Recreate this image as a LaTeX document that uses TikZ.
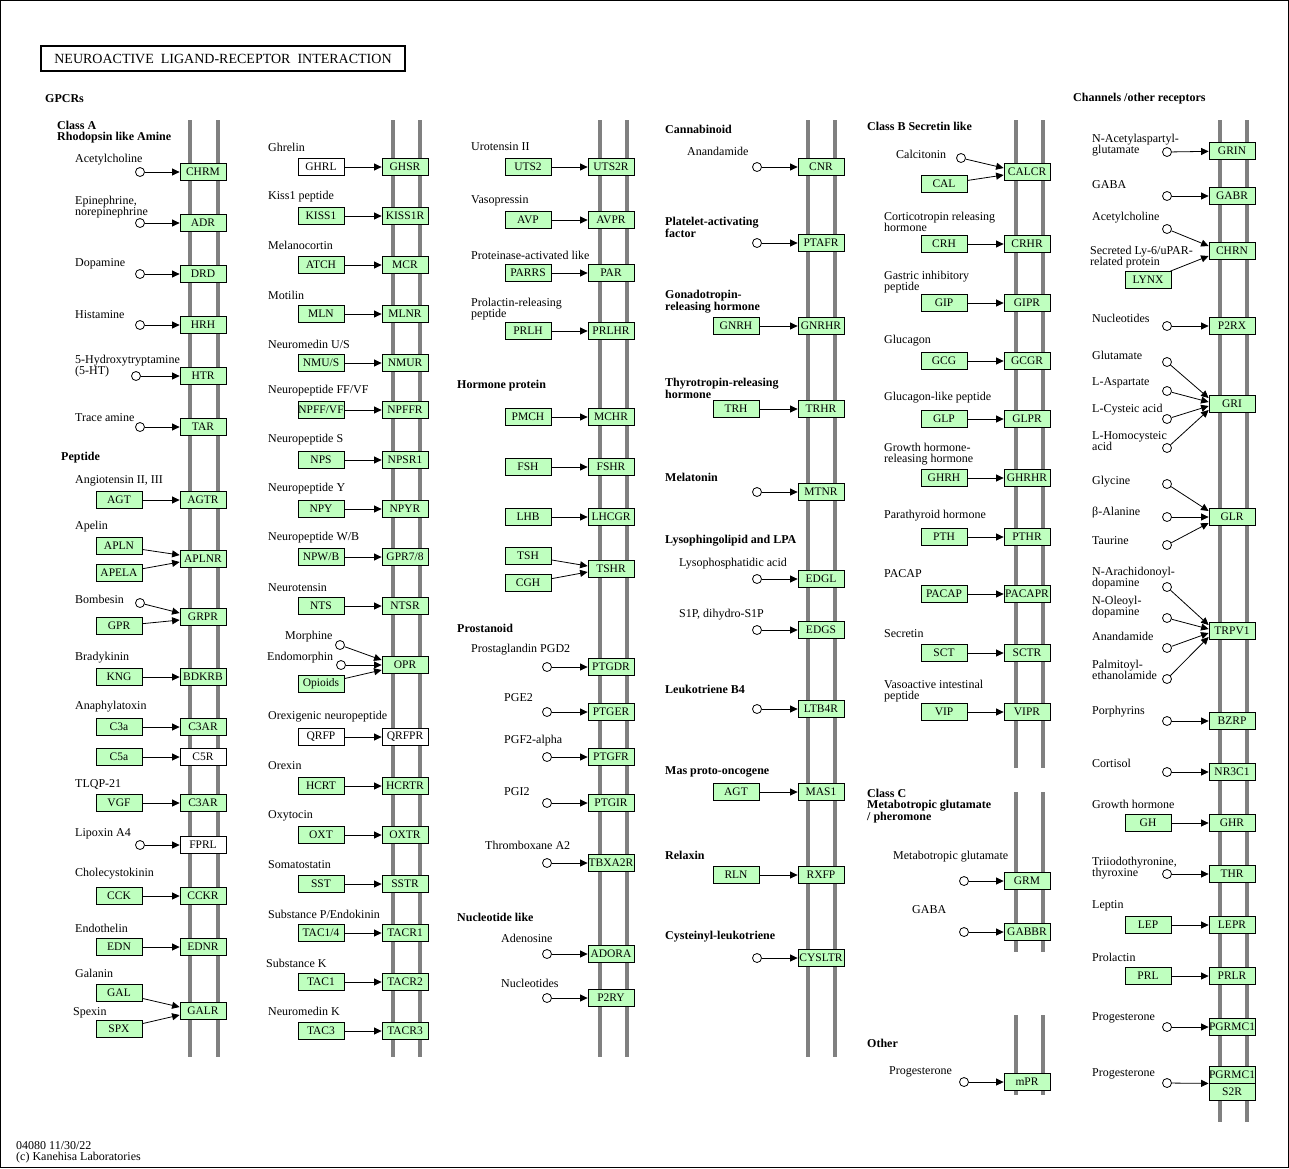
\documentclass[tikz,border=0pt]{standalone}
\usepackage{fontspec}
\setmainfont{Liberation Serif}
\usetikzlibrary{arrows.meta}
\definecolor{kgreen}{HTML}{BFFFBF}

\begin{document}
\begin{tikzpicture}[x=1pt,y=-1pt,
    every node/.style={inner sep=0pt},
    gene/.style={draw, fill=kgreen, line width=0.8pt, minimum width=46pt, minimum height=17pt,
      font=\fontsize{11.5}{12}\selectfont},
    nogene/.style={gene, fill=white},
    cpd/.style={circle, draw, fill=white, line width=0.8pt, minimum size=9pt},
    lbl/.style={anchor=west, align=left, font=\fontsize{12}{11}\selectfont},
    grp/.style={anchor=west, align=left, font=\fontsize{12}{10.5}\selectfont\bfseries},
    mem/.style={draw=gray, line width=4pt},
    act/.style={-{Triangle[length=7.5pt,width=7pt]}, line width=0.8pt}]
  \useasboundingbox (0,0) rectangle (1289,1168);
  \draw (0.5,0.5) rectangle (1288.5,1167.5);

  % membranes
  \draw[mem] (190,120) -- (190,1057);  \draw[mem] (218,120) -- (218,1057);
  \draw[mem] (393,120) -- (393,1057);  \draw[mem] (420,120) -- (420,1057);
  \draw[mem] (600,120) -- (600,1057);  \draw[mem] (627,120) -- (627,1057);
  \draw[mem] (808,120) -- (808,1057);  \draw[mem] (835,120) -- (835,1057);
  \draw[mem] (1016,120) -- (1016,768); \draw[mem] (1043,120) -- (1043,768);
  \draw[mem] (1016,792) -- (1016,952); \draw[mem] (1043,792) -- (1043,952);
  \draw[mem] (1016,1015) -- (1016,1095); \draw[mem] (1043,1015) -- (1043,1095);
  \draw[mem] (1220,120) -- (1220,1122); \draw[mem] (1247,120) -- (1247,1122);

  \node[draw, line width=2pt, minimum width=364pt, minimum height=25pt,
    font=\fontsize{14}{14}\selectfont] (title) at (223,58.5)
    {NEUROACTIVE\ \ LIGAND-RECEPTOR\ \ INTERACTION};
  \node[lbl] (foot) at (16,1152) {04080 11/30/22\\(c) Kanehisa Laboratories};

  % GPCRs / class A
  \node[grp] (hgpcr) at (45,99) {GPCRs};
  \node[grp] (hclassa) at (57,132) {Class A\\Rhodopsin like Amine};
  \node[lbl] (t1) at (75,160) {Acetylcholine};
  \node[cpd] (c1) at (140,172) {};
  \node[gene] (chrm) at (203,172) {CHRM};
  \node[lbl] (t2) at (75,207) {Epinephrine,\\norepinephrine};
  \node[cpd] (c2) at (140,223) {};
  \node[gene] (adr) at (203,223) {ADR};
  \node[lbl] (t3) at (75,264) {Dopamine};
  \node[cpd] (c3) at (140,274) {};
  \node[gene] (drd) at (203,274) {DRD};
  \node[lbl] (t4) at (75,315) {Histamine};
  \node[cpd] (c4) at (140,325) {};
  \node[gene] (hrh) at (203,325) {HRH};
  \node[lbl] (t5) at (75,366) {5-Hydroxytryptamine\\(5-HT)};
  \node[cpd] (c5) at (136,376) {};
  \node[gene] (htr) at (203,376) {HTR};
  \node[lbl] (t6) at (75,418) {Trace amine};
  \node[cpd] (c6) at (140,427) {};
  \node[gene] (tar) at (203,427) {TAR};
  \node[grp] (hpep) at (61,458) {Peptide};
  \node[lbl] (t7) at (75,481) {Angiotensin II, III};
  \node[gene] (agt) at (119,500) {AGT};
  \node[gene] (agtr) at (203,500) {AGTR};
  \node[lbl] (t8) at (75,527) {Apelin};
  \node[gene] (apln) at (119,546) {APLN};
  \node[gene] (apela) at (119,573) {APELA};
  \node[gene] (aplnr) at (203,559) {APLNR};
  \node[lbl] (t9) at (75,599) {Bombesin};
  \node[cpd] (c9) at (140,603) {};
  \node[gene] (gpr) at (119,626) {GPR};
  \node[gene] (grpr) at (203,617) {GRPR};
  \node[lbl] (t10) at (75,658) {Bradykinin};
  \node[gene] (kng) at (119,677) {KNG};
  \node[gene] (bdkrb) at (203,677) {BDKRB};
  \node[lbl] (t11) at (75,707) {Anaphylatoxin};
  \node[gene] (c3a) at (119,727) {C3a};
  \node[gene] (c3ar) at (203,727) {C3AR};
  \node[gene] (c5a) at (119,757) {C5a};
  \node[nogene] (c5r) at (203,757) {C5R};
  \node[lbl] (t12) at (75,784) {TLQP-21};
  \node[gene] (vgf) at (119,803) {VGF};
  \node[gene] (c3arb) at (203,803) {C3AR};
  \node[lbl] (t13) at (75,834) {Lipoxin A4};
  \node[cpd] (c13) at (140,845) {};
  \node[nogene] (fprl) at (203,845) {FPRL};
  \node[lbl] (t14) at (75,874) {Cholecystokinin};
  \node[gene] (cck) at (119,896) {CCK};
  \node[gene] (cckr) at (203,896) {CCKR};
  \node[lbl] (t15) at (75,928) {Endothelin};
  \node[gene] (edn) at (119,947) {EDN};
  \node[gene] (ednr) at (203,947) {EDNR};
  \node[lbl] (t16) at (75,973) {Galanin};
  \node[gene] (gal) at (119,993) {GAL};
  \node[lbl] (t17) at (73,1013) {Spexin};
  \node[gene] (spx) at (119,1029) {SPX};
  \node[gene] (galr) at (203,1011) {GALR};

  \draw[act] (c1) -- (chrm);
  \draw[act] (c2) -- (adr);
  \draw[act] (c3) -- (drd);
  \draw[act] (c4) -- (hrh);
  \draw[act] (c5) -- (htr);
  \draw[act] (c6) -- (tar);
  \draw[act] (agt) -- (agtr);
  \draw[act] (apln) -- ([yshift=4pt]aplnr.west);
  \draw[act] (apela) -- ([yshift=-3pt]aplnr.west);
  \draw[act] (c9) -- ([yshift=4pt]grpr.west);
  \draw[act] (gpr) -- ([yshift=-3pt]grpr.west);
  \draw[act] (kng) -- (bdkrb);
  \draw[act] (c3a) -- (c3ar);
  \draw[act] (c5a) -- (c5r);
  \draw[act] (vgf) -- (c3arb);
  \draw[act] (c13) -- (fprl);
  \draw[act] (cck) -- (cckr);
  \draw[act] (edn) -- (ednr);
  \draw[act] (gal) -- ([yshift=4pt]galr.west);
  \draw[act] (spx) -- ([yshift=-4pt]galr.west);

  % peptide, second column
  \node[lbl] (t20) at (268,147) {Ghrelin};
  \node[nogene] (ghrl) at (321,167) {GHRL};
  \node[gene] (ghsr) at (405,167) {GHSR};
  \node[lbl] (t21) at (268,197) {Kiss1 peptide};
  \node[gene] (kiss) at (321,216) {KISS1};
  \node[gene] (kissr) at (405,216) {KISS1R};
  \node[lbl] (t22) at (268,245) {Melanocortin};
  \node[gene] (atch) at (321,265) {ATCH};
  \node[gene] (mcr) at (405,265) {MCR};
  \node[lbl] (t23) at (268,295) {Motilin};
  \node[gene] (mln) at (321,314) {MLN};
  \node[gene] (mlnr) at (405,314) {MLNR};
  \node[lbl] (t24) at (268,344) {Neuromedin U/S};
  \node[gene] (nmu) at (321,363) {NMU/S};
  \node[gene] (nmur) at (405,363) {NMUR};
  \node[lbl] (t25) at (268,391) {Neuropeptide FF/VF};
  \node[gene] (npff) at (321,410) {NPFF/VF};
  \node[gene] (npffr) at (405,410) {NPFFR};
  \node[lbl] (t26) at (268,440) {Neuropeptide S};
  \node[gene] (nps) at (321,460) {NPS};
  \node[gene] (npsr) at (405,460) {NPSR1};
  \node[lbl] (t27) at (268,489) {Neuropeptide Y};
  \node[gene] (npy) at (321,509) {NPY};
  \node[gene] (npyr) at (405,509) {NPYR};
  \node[lbl] (t28) at (268,538) {Neuropeptide W/B};
  \node[gene] (npw) at (321,557) {NPW/B};
  \node[gene] (gpr78) at (405,557) {GPR7/8};
  \node[lbl] (t29) at (268,588) {Neurotensin};
  \node[gene] (nts) at (321,606) {NTS};
  \node[gene] (ntsr) at (405,606) {NTSR};
  \node[lbl] (t30) at (285,637) {Morphine};
  \node[cpd] (c30) at (340,645) {};
  \node[lbl] (t31) at (267,658) {Endomorphin};
  \node[cpd] (c31) at (341,665) {};
  \node[gene] (opi) at (321,684) {Opioids};
  \node[gene] (opr) at (405,665) {OPR};
  \node[lbl] (t32) at (268,717) {Orexigenic neuropeptide};
  \node[nogene] (qrfp) at (321,737) {QRFP};
  \node[nogene] (qrfpr) at (405,737) {QRFPR};
  \node[lbl] (t33) at (268,766) {Orexin};
  \node[gene] (hcrt) at (321,786) {HCRT};
  \node[gene] (hcrtr) at (405,786) {HCRTR};
  \node[lbl] (t34) at (268,816) {Oxytocin};
  \node[gene] (oxt) at (321,835) {OXT};
  \node[gene] (oxtr) at (405,835) {OXTR};
  \node[lbl] (t35) at (268,865) {Somatostatin};
  \node[gene] (sst) at (321,884) {SST};
  \node[gene] (sstr) at (405,884) {SSTR};
  \node[lbl] (t36) at (268,914) {Substance P/Endokinin};
  \node[gene] (tac14) at (321,933) {TAC1/4};
  \node[gene] (tacr1) at (405,933) {TACR1};
  \node[lbl] (t37) at (266,963) {Substance K};
  \node[gene] (tac1) at (321,982) {TAC1};
  \node[gene] (tacr2) at (405,982) {TACR2};
  \node[lbl] (t38) at (268,1011) {Neuromedin K};
  \node[gene] (tac3) at (321,1031) {TAC3};
  \node[gene] (tacr3) at (405,1031) {TACR3};

  \draw[act] (ghrl) -- (ghsr);
  \draw[act] (kiss) -- (kissr);
  \draw[act] (atch) -- (mcr);
  \draw[act] (mln) -- (mlnr);
  \draw[act] (nmu) -- (nmur);
  \draw[act] (npff) -- (npffr);
  \draw[act] (nps) -- (npsr);
  \draw[act] (npy) -- (npyr);
  \draw[act] (npw) -- (gpr78);
  \draw[act] (nts) -- (ntsr);
  \draw[act] (c30) -- ([yshift=5pt]opr.west);
  \draw[act] (c31) -- (opr);
  \draw[act] (opi) -- ([yshift=-5pt]opr.west);
  \draw[act] (qrfp) -- (qrfpr);
  \draw[act] (hcrt) -- (hcrtr);
  \draw[act] (oxt) -- (oxtr);
  \draw[act] (sst) -- (sstr);
  \draw[act] (tac14) -- (tacr1);
  \draw[act] (tac1) -- (tacr2);
  \draw[act] (tac3) -- (tacr3);

  % third column
  \node[lbl] (t40) at (471,147) {Urotensin II};
  \node[gene] (uts2) at (528,167) {UTS2};
  \node[gene] (uts2r) at (611,167) {UTS2R};
  \node[lbl] (t41) at (471,201) {Vasopressin};
  \node[gene] (avp) at (528,220) {AVP};
  \node[gene] (avpr) at (611,220) {AVPR};
  \node[lbl] (t42) at (471,255) {Proteinase-activated like};
  \node[gene] (parrs) at (528,273) {PARRS};
  \node[gene] (par) at (611,273) {PAR};
  \node[lbl] (t43) at (471,309) {Prolactin-releasing\\peptide};
  \node[gene] (prlh) at (528,331) {PRLH};
  \node[gene] (prlhr) at (611,331) {PRLHR};
  \node[grp] (hhorm) at (457,386) {Hormone protein};
  \node[gene] (pmch) at (528,417) {PMCH};
  \node[gene] (mchr) at (611,417) {MCHR};
  \node[gene] (fsh) at (528,467) {FSH};
  \node[gene] (fshr) at (611,467) {FSHR};
  \node[gene] (lhb) at (528,517) {LHB};
  \node[gene] (lhcgr) at (611,517) {LHCGR};
  \node[gene] (tsh) at (528,556) {TSH};
  \node[gene] (cgh) at (528,583) {CGH};
  \node[gene] (tshr) at (611,569) {TSHR};
  \node[grp] (hpros) at (457,628) {Prostanoid};
  \node[lbl] (t44) at (471,650) {Prostaglandin PGD2};
  \node[cpd] (c44) at (547,667) {};
  \node[gene] (ptgdr) at (611,667) {PTGDR};
  \node[lbl] (t45) at (504,698) {PGE2};
  \node[cpd] (c45) at (547,712) {};
  \node[gene] (ptger) at (611,712) {PTGER};
  \node[lbl] (t46) at (504,741) {PGF2-alpha};
  \node[cpd] (c46) at (547,757) {};
  \node[gene] (ptgfr) at (611,757) {PTGFR};
  \node[lbl] (t47) at (504,792) {PGI2};
  \node[cpd] (c47) at (547,803) {};
  \node[gene] (ptgir) at (611,803) {PTGIR};
  \node[lbl] (t48) at (485,845) {Thromboxane A2};
  \node[cpd] (c48) at (547,863) {};
  \node[gene] (tbxa2r) at (611,863) {TBXA2R};
  \node[grp] (hnuc) at (457,917) {Nucleotide like};
  \node[lbl] (t49) at (501,938) {Adenosine};
  \node[cpd] (c49) at (547,954) {};
  \node[gene] (adora) at (611,954) {ADORA};
  \node[lbl] (t50) at (501,983) {Nucleotides};
  \node[cpd] (c50) at (547,998) {};
  \node[gene] (p2ry) at (611,998) {P2RY};

  \draw[act] (uts2) -- (uts2r);
  \draw[act] (avp) -- (avpr);
  \draw[act] (parrs) -- (par);
  \draw[act] (prlh) -- (prlhr);
  \draw[act] (pmch) -- (mchr);
  \draw[act] (fsh) -- (fshr);
  \draw[act] (lhb) -- (lhcgr);
  \draw[act] (tsh) -- ([yshift=3pt]tshr.west);
  \draw[act] (cgh) -- ([yshift=-3pt]tshr.west);
  \draw[act] (c44) -- (ptgdr);
  \draw[act] (c45) -- (ptger);
  \draw[act] (c46) -- (ptgfr);
  \draw[act] (c47) -- (ptgir);
  \draw[act] (c48) -- (tbxa2r);
  \draw[act] (c49) -- (adora);
  \draw[act] (c50) -- (p2ry);

  % fourth column
  \node[grp] (hcann) at (665,129) {Cannabinoid};
  \node[lbl] (t60) at (687,151) {Anandamide};
  \node[cpd] (c60) at (757,167) {};
  \node[gene] (cnr) at (821,167) {CNR};
  \node[grp] (hpaf) at (665,227) {Platelet-activating\\factor};
  \node[cpd] (c61) at (757,243) {};
  \node[gene] (ptafr) at (821,243) {PTAFR};
  \node[grp] (hgnrh) at (665,302) {Gonadotropin-\\releasing hormone};
  \node[gene] (gnrh) at (736,326) {GNRH};
  \node[gene] (gnrhr) at (821,326) {GNRHR};
  \node[grp] (htrh) at (665,388) {Thyrotropin-releasing\\hormone};
  \node[gene] (trh) at (736,409) {TRH};
  \node[gene] (trhr) at (821,409) {TRHR};
  \node[grp] (hmel) at (665,477) {Melatonin};
  \node[cpd] (c62) at (757,492) {};
  \node[gene] (mtnr) at (821,492) {MTNR};
  \node[grp] (hlyso) at (665,541) {Lysophingolipid and LPA};
  \node[lbl] (t63) at (679,564) {Lysophosphatidic acid};
  \node[cpd] (c63) at (757,579) {};
  \node[gene] (edgl) at (821,579) {EDGL};
  \node[lbl] (t64) at (679,615) {S1P, dihydro-S1P};
  \node[cpd] (c64) at (757,630) {};
  \node[gene] (edgs) at (821,630) {EDGS};
  \node[grp] (hltb) at (665,689) {Leukotriene B4};
  \node[cpd] (c65) at (757,709) {};
  \node[gene] (ltb4r) at (821,709) {LTB4R};
  \node[grp] (hmas) at (665,772) {Mas proto-oncogene};
  \node[gene] (agtb) at (736,792) {AGT};
  \node[gene] (mas1) at (821,792) {MAS1};
  \node[grp] (hrln) at (665,855) {Relaxin};
  \node[gene] (rln) at (736,875) {RLN};
  \node[gene] (rxfp) at (821,875) {RXFP};
  \node[grp] (hcys) at (665,937) {Cysteinyl-leukotriene};
  \node[cpd] (c66) at (757,958) {};
  \node[gene] (cysltr) at (821,958) {CYSLTR};

  \draw[act] (c60) -- (cnr);
  \draw[act] (c61) -- (ptafr);
  \draw[act] (gnrh) -- (gnrhr);
  \draw[act] (trh) -- (trhr);
  \draw[act] (c62) -- (mtnr);
  \draw[act] (c63) -- (edgl);
  \draw[act] (c64) -- (edgs);
  \draw[act] (c65) -- (ltb4r);
  \draw[act] (agtb) -- (mas1);
  \draw[act] (rln) -- (rxfp);
  \draw[act] (c66) -- (cysltr);

  % class B, class C, other
  \node[grp] (hclassb) at (867,126) {Class B Secretin like};
  \node[lbl] (t70) at (896,154) {Calcitonin};
  \node[cpd] (c70) at (961,158) {};
  \node[gene] (cal) at (944,184) {CAL};
  \node[gene] (calcr) at (1027,172) {CALCR};
  \node[lbl] (t71) at (884,222) {Corticotropin releasing\\hormone};
  \node[gene] (crh) at (944,244) {CRH};
  \node[gene] (crhr) at (1027,244) {CRHR};
  \node[lbl] (t72) at (884,282) {Gastric inhibitory\\peptide};
  \node[gene] (gip) at (944,303) {GIP};
  \node[gene] (gipr) at (1027,303) {GIPR};
  \node[lbl] (t73) at (884,341) {Glucagon};
  \node[gene] (gcg) at (944,361) {GCG};
  \node[gene] (gcgr) at (1027,361) {GCGR};
  \node[lbl] (t74) at (884,398) {Glucagon-like peptide};
  \node[gene] (glp) at (944,419) {GLP};
  \node[gene] (glpr) at (1027,419) {GLPR};
  \node[lbl] (t75) at (884,454) {Growth hormone-\\releasing hormone};
  \node[gene] (ghrh) at (944,478) {GHRH};
  \node[gene] (ghrhr) at (1027,478) {GHRHR};
  \node[lbl] (t76) at (884,516) {Parathyroid hormone};
  \node[gene] (pth) at (944,537) {PTH};
  \node[gene] (pthr) at (1027,537) {PTHR};
  \node[lbl] (t77) at (884,574) {PACAP};
  \node[gene] (pacap) at (944,594) {PACAP};
  \node[gene] (pacapr) at (1027,594) {PACAPR};
  \node[lbl] (t78) at (884,634) {Secretin};
  \node[gene] (sct) at (944,653) {SCT};
  \node[gene] (sctr) at (1027,653) {SCTR};
  \node[lbl] (t79) at (884,691) {Vasoactive intestinal\\peptide};
  \node[gene] (vip) at (944,712) {VIP};
  \node[gene] (vipr) at (1027,712) {VIPR};
  \node[grp] (hclassc) at (867,806) {Class C\\Metabotropic glutamate\\/ pheromone};
  \node[lbl] (t80) at (893,857) {Metabotropic glutamate};
  \node[cpd] (c80) at (964,881) {};
  \node[gene] (grm) at (1027,881) {GRM};
  \node[lbl] (t81) at (912,910) {GABA};
  \node[cpd] (c81) at (964,932) {};
  \node[gene] (gabbr) at (1027,932) {GABBR};
  \node[grp] (hother) at (867,1043) {Other};
  \node[lbl] (t82) at (889,1072) {Progesterone};
  \node[cpd] (c82) at (964,1082) {};
  \node[gene] (mpr) at (1027,1082) {mPR};

  \draw[act] (c70) -- ([yshift=4pt]calcr.west);
  \draw[act] (cal) -- ([yshift=-3pt]calcr.west);
  \draw[act] (crh) -- (crhr);
  \draw[act] (gip) -- (gipr);
  \draw[act] (gcg) -- (gcgr);
  \draw[act] (glp) -- (glpr);
  \draw[act] (ghrh) -- (ghrhr);
  \draw[act] (pth) -- (pthr);
  \draw[act] (pacap) -- (pacapr);
  \draw[act] (sct) -- (sctr);
  \draw[act] (vip) -- (vipr);
  \draw[act] (c80) -- (grm);
  \draw[act] (c81) -- (gabbr);
  \draw[act] (c82) -- (mpr);

  % channels / other receptors
  \node[grp] (hchan) at (1073,99) {Channels /other receptors};
  \node[lbl] (t90) at (1092,145) {N-Acetylaspartyl-\\glutamate};
  \node[cpd] (c90) at (1167,152) {};
  \node[gene] (grin) at (1232,151) {GRIN};
  \node[lbl] (t91) at (1092,185) {GABA};
  \node[cpd] (c91) at (1167,196) {};
  \node[gene] (gabr) at (1232,196) {GABR};
  \node[lbl] (t92) at (1092,218) {Acetylcholine};
  \node[cpd] (c92) at (1167,229) {};
  \node[lbl] (t93) at (1090,257) {Secreted Ly-6/uPAR-\\related protein};
  \node[gene] (lynx) at (1148,280) {LYNX};
  \node[gene] (chrn) at (1232,251) {CHRN};
  \node[lbl] (t94) at (1092,318) {Nucleotides};
  \node[cpd] (c94) at (1167,326) {};
  \node[gene] (p2rx) at (1232,326) {P2RX};
  \node[lbl] (t95) at (1092,355) {Glutamate};
  \node[cpd] (c95) at (1167,362) {};
  \node[lbl] (t96) at (1092,383) {L-Aspartate};
  \node[cpd] (c96) at (1167,391) {};
  \node[lbl] (t97) at (1092,410) {L-Cysteic acid};
  \node[cpd] (c97) at (1167,419) {};
  \node[lbl] (t98) at (1092,441) {L-Homocysteic\\acid};
  \node[cpd] (c98) at (1167,448) {};
  \node[gene] (gri) at (1232,404) {GRI};
  \node[lbl] (t99) at (1092,482) {Glycine};
  \node[cpd] (c99) at (1167,484) {};
  \node[lbl] (t100) at (1092,513) {β-Alanine};
  \node[cpd] (c100) at (1167,517) {};
  \node[lbl] (t101) at (1092,541) {Taurine};
  \node[cpd] (c101) at (1167,545) {};
  \node[gene] (glr) at (1232,517) {GLR};
  \node[lbl] (t102) at (1092,578) {N-Arachidonoyl-\\dopamine};
  \node[cpd] (c102) at (1167,587) {};
  \node[lbl] (t103) at (1092,607) {N-Oleoyl-\\dopamine};
  \node[cpd] (c103) at (1167,618) {};
  \node[lbl] (t104) at (1092,636) {Anandamide};
  \node[cpd] (c104) at (1167,648) {};
  \node[lbl] (t105) at (1092,670) {Palmitoyl-\\ethanolamide};
  \node[cpd] (c105) at (1167,679) {};
  \node[gene] (trpv) at (1232,631) {TRPV1};
  \node[lbl] (t106) at (1092,712) {Porphyrins};
  \node[cpd] (c106) at (1167,721) {};
  \node[gene] (bzrp) at (1232,721) {BZRP};
  \node[lbl] (t107) at (1092,763) {Cortisol};
  \node[cpd] (c107) at (1167,772) {};
  \node[gene] (nr3c1) at (1232,772) {NR3C1};
  \node[lbl] (t108) at (1092,804) {Growth hormone};
  \node[gene] (gh) at (1148,823) {GH};
  \node[gene] (ghr) at (1232,823) {GHR};
  \node[lbl] (t109) at (1092,868) {Triiodothyronine,\\thyroxine};
  \node[cpd] (c109) at (1167,874) {};
  \node[gene] (thr) at (1232,874) {THR};
  \node[lbl] (t110) at (1092,906) {Leptin};
  \node[gene] (lep) at (1148,925) {LEP};
  \node[gene] (lepr) at (1232,925) {LEPR};
  \node[lbl] (t111) at (1092,957) {Prolactin};
  \node[gene] (prl) at (1148,976) {PRL};
  \node[gene] (prlr) at (1232,976) {PRLR};
  \node[lbl] (t112) at (1092,1018) {Progesterone};
  \node[cpd] (c112) at (1167,1027) {};
  \node[gene] (pgrmc) at (1232,1027) {PGRMC1};
  \node[lbl] (t113) at (1092,1074) {Progesterone};
  \node[cpd] (c113) at (1167,1083) {};
  \node[gene] (pgrmcb) at (1232,1074.5) {PGRMC1};
  \node[gene] (s2r) at (1232,1091.5) {S2R};

  \draw[act] (c90) -- (grin);
  \draw[act] (c91) -- (gabr);
  \draw[act] (c92) -- ([yshift=5pt]chrn.west);
  \draw[act] (lynx) -- ([yshift=-5pt]chrn.west);
  \draw[act] (c94) -- (p2rx);
  \draw[act] (c95) -- ([yshift=6pt]gri.west);
  \draw[act] (c96) -- ([yshift=2pt]gri.west);
  \draw[act] (c97) -- ([yshift=-2pt]gri.west);
  \draw[act] (c98) -- ([yshift=-6pt]gri.west);
  \draw[act] (c99) -- ([yshift=6pt]glr.west);
  \draw[act] (c100) -- (glr);
  \draw[act] (c101) -- ([yshift=-6pt]glr.west);
  \draw[act] (c102) -- ([yshift=6pt]trpv.west);
  \draw[act] (c103) -- ([yshift=2pt]trpv.west);
  \draw[act] (c104) -- ([yshift=-2pt]trpv.west);
  \draw[act] (c105) -- ([yshift=-6pt]trpv.west);
  \draw[act] (c106) -- (bzrp);
  \draw[act] (c107) -- (nr3c1);
  \draw[act] (gh) -- (ghr);
  \draw[act] (c109) -- (thr);
  \draw[act] (lep) -- (lepr);
  \draw[act] (prl) -- (prlr);
  \draw[act] (c112) -- (pgrmc);
  \draw[act] (c113) -- (pgrmcb.south west);
\end{tikzpicture}
\end{document}
